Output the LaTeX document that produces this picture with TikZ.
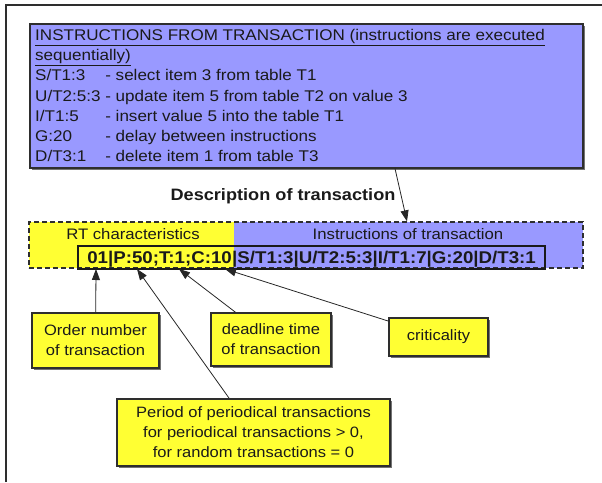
\documentclass[tikz,border=0pt]{standalone}
\usepackage{fontspec}
\setmainfont{Liberation Sans}[FakeStretch=1.1]
\usetikzlibrary{arrows.meta,shadows}
\definecolor{lav}{HTML}{9999FF}
\definecolor{lemon}{HTML}{FFFF33}
\definecolor{edge}{HTML}{2E2E2E}
\definecolor{ink}{HTML}{1A1A1A}

\begin{document}
\begin{tikzpicture}[x=1pt,y=-1pt,
  every node/.style={text=ink},
  shadowed/.style={drop shadow={shadow xshift=1.6pt,shadow yshift=-1.6pt,fill=black!55,opacity=1}},
  panel/.style={draw=edge,line width=1.1pt,inner sep=0pt,shadowed},
  part/.style={inner sep=0pt,draw=none},
  note/.style={draw=edge,fill=lemon,line width=1.2pt,inner sep=0pt,align=center,
    font=\fontsize{15}{20}\selectfont,shadowed},
  arr/.style={draw=black!85,line width=0.8pt,-{Triangle[length=11pt,width=8pt]}}
]
\useasboundingbox (0,0) rectangle (602,482);

% page frame
\draw[edge,line width=1.5pt] (6,482) -- (6,5) -- (602,5);

% list of instructions
\node[panel,fill=lav,minimum width=553pt,minimum height=144pt] (instr) at (306.5,96) {};
\node[anchor=base west,inner sep=0pt,font=\fontsize{15.5}{20.2}\selectfont] (instrtext) at (35,40.5)
{\begin{tabular}[t]{@{}l@{\ }l@{}}
\multicolumn{2}{@{}l@{}}{\underline{INSTRUCTIONS FROM TRANSACTION (instructions are executed}}\\
\multicolumn{2}{@{}l@{}}{\underline{sequentially)}}\\
S/T1:3 & - select item 3 from table T1\\
U/T2:5:3 & - update item 5 from table T2 on value 3\\
I/T1:5 & - insert value 5 into the table T1\\
G:20 & - delay between instructions\\
D/T3:1 & - delete item 1 from table T3
\end{tabular}};

\node[font=\fontsize{16.5}{20}\selectfont\bfseries] (desctitle) at (283,196) {Description of transaction};

% transaction record
\node[part,fill=lemon,minimum width=205pt,minimum height=46pt] (rtpart) at (131.5,245) {};
\node[part,fill=lav,minimum width=349pt,minimum height=46pt] (inpart) at (408.5,245) {};
\node[draw=edge,line width=1.3pt,dash pattern=on 5pt off 3pt,inner sep=0pt,
      minimum width=554pt,minimum height=46pt] (desc) at (306,245) {};
\node[font=\fontsize{15.2}{18}\selectfont] (rtlabel) at (133,234) {RT characteristics};
\node[font=\fontsize{15.2}{18}\selectfont] (inlabel) at (408,234) {Instructions of transaction};

\node[draw=ink,line width=1.3pt,inner sep=0pt,minimum width=467pt,minimum height=23pt] (seq) at (311.5,257.5) {};
\node[anchor=base east,inner sep=0pt,font=\fontsize{17}{20}\selectfont\bfseries] (rtcode) at (232,263) {01|P:50;T:1;C:10};
\node[anchor=base west,inner sep=0pt,font=\fontsize{17}{20}\selectfont\bfseries] (inscode) at (232,263) {|S/T1:3|U/T2:5:3|I/T1:7|G:20|D/T3:1};

% points on the record that the notes refer to
\coordinate (t1) at (96,269);
\coordinate (t2) at (137,269);
\coordinate (t3) at (179,269);
\coordinate (t4) at (225,269);

% notes
\node[note,minimum width=127pt,minimum height=55pt] (order) at (95.5,340.5) {Order number\\of transaction};
\node[note,minimum width=120pt,minimum height=53pt] (deadline) at (271,339.5) {deadline time\\of transaction};
\node[note,minimum width=99pt,minimum height=38pt] (crit) at (438.5,337) {criticality};
\node[note,minimum width=273pt,minimum height=67pt] (period) at (253.5,432.5)
  {Period of periodical transactions\\for periodical transactions > 0,\\for random transactions = 0};

% connectors
\draw[arr] (instr.south -| 395,0) -- (desc.north -| 407,0);
\draw[arr] (order) -- (t1);
\draw[arr] (period) -- (t2);
\draw[arr] (deadline) -- (t3);
\draw[arr] (crit) -- (t4);
\end{tikzpicture}
\end{document}
